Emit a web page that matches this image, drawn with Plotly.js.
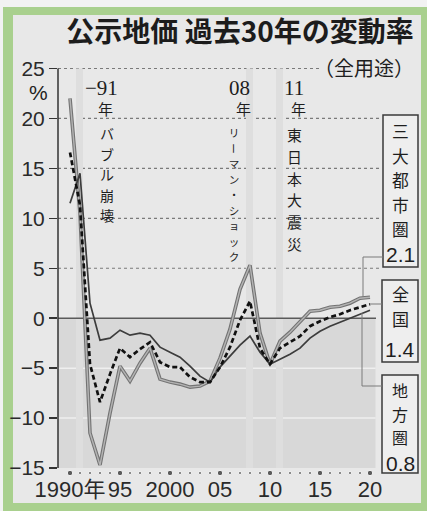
<!DOCTYPE html>
<html><head><meta charset="utf-8">
<script src="https://cdn.plot.ly/plotly-3.0.1.min.js"></script>
<style>
html,body{margin:0;padding:0;background:#f2f2f2;}
#wrap{position:relative;width:427px;height:511px;overflow:hidden;background:#f2f2f2;}
#frame{position:absolute;left:3px;top:7px;width:424px;height:504px;background:#a9d08e;}
#inner{position:absolute;left:13px;top:15px;width:408px;height:488px;background:#e8e8e8;}
#plot{position:absolute;left:0;top:0;width:427px;height:511px;}
</style></head><body>
<div id="wrap"><div id="frame"></div><div id="inner"></div><div id="plot"></div></div>
<script>
// ---- data ----
const years = [1990,1991,1992,1993,1994,1995,1996,1997,1998,1999,2000,2001,2002,2003,2004,2005,2006,2007,2008,2009,2010,2011,2012,2013,2014,2015,2016,2017,2018,2019,2020];
// 三大都市圏
const metro = [22.0,10.5,-11.5,-14.7,-9.5,-4.8,-6.3,-4.5,-3.0,-6.1,-6.4,-6.6,-6.9,-6.8,-6.3,-4.0,-1.1,2.9,5.3,-1.5,-4.6,-2.3,-1.4,-0.4,0.7,0.8,1.1,1.2,1.5,2.0,2.1];
// 全国
const national = [16.6,11.3,-4.6,-8.4,-5.6,-3.0,-3.9,-3.1,-2.4,-4.4,-4.9,-4.9,-5.9,-6.4,-6.4,-4.9,-2.9,-0.2,1.7,-3.0,-4.6,-3.0,-2.4,-1.8,-0.8,-0.3,0.1,0.4,0.8,1.1,1.4];
// 地方圏
const regional = [11.5,14.5,1.5,-2.2,-2.0,-1.2,-1.7,-1.5,-1.7,-2.9,-3.4,-3.9,-4.8,-5.8,-6.4,-4.9,-3.8,-2.7,-1.8,-3.4,-4.6,-4.1,-3.6,-3.0,-2.0,-1.3,-0.8,-0.4,0.0,0.4,0.8];

const yTicks = [-15,-10,-5,0,5,10,15,20,25];
const xTickVals = [1990,1995,2000,2005,2010,2015,2020];
const xTickText = ['1990年','95','2000','05','10','15','20'];
const eventYears = [1991,2008,2011];
const eventYearLabels = ['−91','08','11'];
const eventTexts = ['バブル崩壊','リーマン・ショック','東日本大震災'];
const seriesNames = ['三大都市圏','全国','地方圏'];
const latestLabels = ['2.1','1.4','0.8'];
const titleText = '公示地価 過去30年の変動率';
const subtitleText = '（全用途）';
const unitText = '%';

// ---- layout geometry ----
const L=58, T=68, W=320, H=406, R=427-L-W, B=511-T-H;
const px = v => (v-L)/W;
const py = v => (T+H-v)/H;
const xRange = [1988.8, 2020.8];
const yRange = [-15.6, 25.05];

const CJK = 'Noto Sans CJK JP, sans-serif';
const SANS = 'Liberation Sans, Arial, Noto Sans CJK JP, sans-serif';
const SERIF = 'Liberation Serif, Times New Roman, serif';

const shapes = [];
shapes.push({type:'rect',xref:'x',yref:'y',x0:xRange[0],x1:2020.55,y0:-15,y1:0,fillcolor:'#d8d8d8',line:{width:0},layer:'below'});
[-5,-10].forEach(v=>shapes.push({type:'line',xref:'x',yref:'y',x0:xRange[0],x1:2020.55,y0:v,y1:v,line:{color:'rgba(245,245,245,0.8)',width:1.5},layer:'below'}));
eventYears.forEach(y=>shapes.push({type:'rect',xref:'x',yref:'y',x0:y-0.4,x1:y+0.3,y0:-15,y1:25,fillcolor:'#dedede',line:{width:0},layer:'below'}));
[5,10,15,20].forEach(v=>shapes.push({type:'line',xref:'paper',yref:'y',x0:0,x1:px(380),y0:v,y1:v,line:{color:'#7a7a7a',width:1.2,dash:'dot'},layer:'below'}));
shapes.push({type:'line',xref:'paper',yref:'y',x0:0,x1:px(320),y0:25,y1:25,line:{color:'#7a7a7a',width:1.2,dash:'dot'},layer:'below'});
shapes.push({type:'line',xref:'x',yref:'y',x0:xRange[0],x1:2020.6,y0:0,y1:0,line:{color:'#5a5a5a',width:1.5},layer:'below'});
shapes.push({type:'line',xref:'paper',yref:'y',x0:0,x1:0,y0:-15,y1:25,line:{color:'#333',width:1.5}});
const boxes = [[383,418,115,267],[382,418,280,362],[382,418,375,473]];
boxes.forEach(b=>shapes.push({type:'rect',xref:'paper',yref:'paper',x0:px(b[0]),x1:px(b[1]),y0:py(b[3]),y1:py(b[2]),fillcolor:'#eeeeee',line:{color:'#3a3a3a',width:1.5}}));
const seg = (x0,y0,x1,y1)=>shapes.push({type:'line',xref:'paper',yref:'paper',x0:px(x0),x1:px(x1),y0:py(y0),y1:py(y1),line:{color:'#7a7a7a',width:1}});
seg(383,257,363,257); seg(363,257,363,297);
seg(370,304,382,304);
seg(382,386,362,386); seg(362,386,362,313);

// ---- annotations ----
const ann = [];
const txt = (s,x,y,size,family,opts)=>ann.push(Object.assign({text:s,x:px(x),y:py(y),xref:'paper',yref:'paper',showarrow:false,xanchor:'center',yanchor:'middle',font:{size:size,family:family,color:'#1e1e1e'}},opts||{}));
// vertical text: one character per line, glyph size chosen so stacked line boxes do not collide
const vblock = (s,cx,y0,pitch,rotated)=>{
  const chars=[...s];
  const glyph = Math.floor(pitch/1.46*10)/10;
  const lines = chars.map(ch => (rotated && ch==='ー') ? '　' : '<span style="font-size:'+glyph+'px">'+ch+'</span>');
  txt(lines.join('<br>'),cx,y0+pitch*chars.length/2,pitch/1.3,CJK);
  if(rotated) chars.forEach((ch,i)=>{ if(ch==='ー') txt(ch,cx,y0+pitch*(i+0.5),glyph,CJK,{textangle:90}); });
};
txt(subtitleText,416,67.5,20,CJK,{xanchor:'right'});
txt(unitText,38,92,21,SANS);
const evX = [101,239,294];
eventYearLabels.forEach((s,i)=>{ txt(s,evX[i],88,21,SERIF); txt('年',evX[i]+4,108,15,CJK); });
vblock(eventTexts[0],107,123,20.5,false);
vblock(eventTexts[1],234,125,15.5,true);
vblock(eventTexts[2],294,124,21.8,false);
const boxCharTop = [118,281,378];
const boxPitch = [24.6,25,23.5];
const boxNumY = [254,349,463];
seriesNames.forEach((n,i)=>{
  const cx = (boxes[i][0]+boxes[i][1])/2;
  vblock(n,cx,boxCharTop[i],boxPitch[i],false);
  txt(latestLabels[i],cx,boxNumY[i],21,SANS);
});

// ---- traces ----
const data = [
  {x:years,y:metro,mode:'lines',line:{color:'#737373',width:3.6},hoverinfo:'skip',showlegend:false},
  {x:years,y:metro,mode:'lines',line:{color:'#b4b4b4',width:1.4},hoverinfo:'skip',showlegend:false},
  {x:years,y:regional,mode:'lines',line:{color:'#3c3c3c',width:1.7},hoverinfo:'skip',showlegend:false},
  {x:years,y:national,mode:'lines',line:{color:'#111',width:2.7,dash:'5px,3px'},hoverinfo:'skip',showlegend:false},
  {x:years,y:years.map(()=>-15.5),mode:'markers',cliponaxis:false,
   marker:{color:'#222',size:years.map(y=>y%5===0?5.5:3)},hoverinfo:'skip',showlegend:false}
];

const layout = {
  width:427,height:511,
  margin:{l:L,r:R,t:T,b:B,pad:0},
  paper_bgcolor:'rgba(0,0,0,0)',plot_bgcolor:'rgba(0,0,0,0)',
  title:{text:titleText,font:{family:CJK,size:28,color:'#1c1c1c',weight:700},xref:'container',yref:'container',x:240/427,y:1-32/511,xanchor:'center',yanchor:'middle'},
  xaxis:{range:xRange,tickvals:xTickVals,ticktext:xTickText,ticks:'',showline:false,showgrid:false,zeroline:false,
         tickfont:{family:SANS,size:22,color:'#2a2a2a'},fixedrange:true},
  yaxis:{range:yRange,tickvals:yTicks,ticks:'outside',ticklen:8,tickwidth:1.5,tickcolor:'#333',showline:false,showgrid:false,zeroline:false,
         tickfont:{family:SANS,size:21,color:'#2a2a2a'},fixedrange:true},
  shapes:shapes,annotations:ann,showlegend:false
};
Plotly.newPlot('plot',data,layout,{displayModeBar:false,staticPlot:true});
</script></body></html>
